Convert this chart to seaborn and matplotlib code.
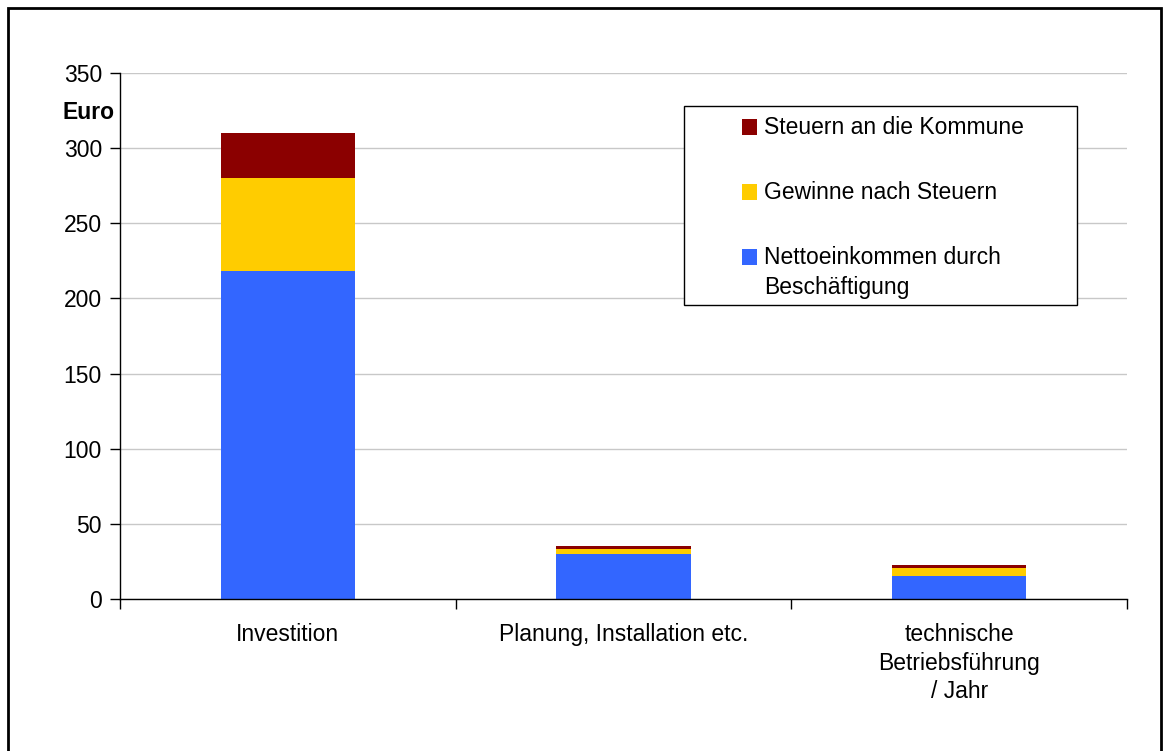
import pandas as pd
import seaborn as sns
import matplotlib.pyplot as plt
from matplotlib.patches import Rectangle

# Daten
kategorien = ['Investition', 'Planung, Installation etc.', 'technische\nBetriebsführung\n/ Jahr']
netto = [218.5, 30.0, 15.3]
gewinne = [61.5, 3.3, 5.3]
steuern = [30.0, 2.0, 2.0]
legende = ['Steuern an die Kommune', 'Gewinne nach Steuern', 'Nettoeinkommen durch\nBeschäftigung']

df = pd.DataFrame({'Kategorie': kategorien, 'Netto': netto, 'Gewinne': gewinne, 'Steuern': steuern})
df['c1'] = df['Netto']
df['c2'] = df['c1'] + df['Gewinne']
df['c3'] = df['c2'] + df['Steuern']

blau = '#3366ff'
gelb = '#ffcc00'
rot = '#8b0000'

sns.set_style('white')
plt.rcParams['font.family'] = ['Liberation Sans', 'DejaVu Sans']
plt.rcParams['text.color'] = 'black'
plt.rcParams['xtick.color'] = 'black'
plt.rcParams['ytick.color'] = 'black'

W, H = 1167, 751
fig = plt.figure(figsize=(W / 100, H / 100), dpi=100)
ax = fig.add_axes([120 / W, 1 - 599 / H, 1007 / W, 526 / H])

# gestapelte Balken (höchste zuerst)
for spalte, farbe in [('c3', rot), ('c2', gelb), ('c1', blau)]:
    sns.barplot(x='Kategorie', y=spalte, data=df, color=farbe, width=0.4, ax=ax,
                saturation=1, linewidth=0)

ax.set_xlim(-0.5, 2.5)
ax.set_ylim(0, 350)
ax.set_yticks(range(0, 351, 50))
ax.yaxis.grid(True, color='#c8c8c8', linewidth=1)
ax.set_axisbelow(True)
ax.set_xlabel('')
ax.set_ylabel('')

for s in ['top', 'right']:
    ax.spines[s].set_visible(False)
for s in ['left', 'bottom']:
    ax.spines[s].set_color('black')
    ax.spines[s].set_linewidth(1)

ax.tick_params(axis='y', which='major', left=True, length=7, width=1, labelsize=16.5, pad=6)
ax.tick_params(axis='x', which='major', bottom=False, labelsize=16.5, pad=14)
ax.set_xticks([0, 1, 2])
ax.set_xticklabels(kategorien, linespacing=1.3)
ax.set_xticks([-0.5, 0.5, 1.5, 2.5], minor=True)
ax.tick_params(axis='x', which='minor', bottom=True, length=7, width=1, color='black')

ax.text(-0.005, 324, 'Euro', transform=ax.get_yaxis_transform(), ha='right', va='center',
        fontsize=16.5, fontweight='bold')

# Legende (von Hand, Kästchen auf Höhe der ersten Zeile)
fig.patches.append(Rectangle((684 / W, 1 - 305 / H), 393 / W, 199 / H, transform=fig.transFigure,
                             facecolor='white', edgecolor='black', linewidth=1, zorder=5))
for text, farbe, yp in zip(legende, [rot, gelb, blau], [127, 192, 257]):
    fig.patches.append(Rectangle((742 / W, 1 - (yp + 7.5) / H), 15 / W, 15 / H,
                                 transform=fig.transFigure, facecolor=farbe, edgecolor='none', zorder=6))
    fig.text(764 / W, 1 - (yp - 11) / H, text, ha='left', va='top', fontsize=16.5,
             linespacing=1.4, zorder=7)

# Rahmen um die Grafik
fig.patches.append(Rectangle((8 / W, -0.05), 1153 / W, 1.05 - 8 / H, transform=fig.transFigure,
                             fill=False, edgecolor='black', linewidth=2))

plt.savefig('out.png', dpi=100)
